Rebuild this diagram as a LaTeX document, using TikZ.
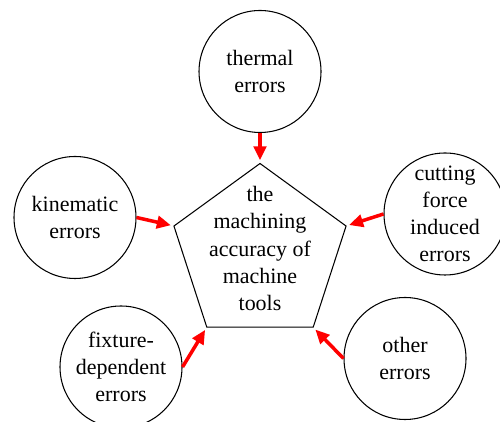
\documentclass[tikz,border=0pt]{standalone}
\usepackage{fontspec}
\setmainfont{Liberation Serif}
\newfontfamily\nodefont{Liberation Serif}
\usetikzlibrary{arrows.meta, shapes.geometric}

\begin{document}
\begin{tikzpicture}[
    err/.style={draw,circle,line width=0.6pt,minimum size=2.44cm,inner sep=0pt},
    txt/.style={align=center,inner sep=0pt,font=\nodefont\fontsize{12.5}{15.4}\selectfont},
    pent/.style={draw,regular polygon,regular polygon sides=5,line width=0.6pt,minimum size=3.62cm,inner sep=0pt},
    arr/.style={-{Triangle[length=2.8mm,width=2.5mm]},red,line width=2pt,shorten >=0.5mm}]
    \useasboundingbox (0,0) rectangle (10,8.44);
    \node[pent] (acc) at (5.2,3.36) {};
    \node[txt] (acctxt) at (5.2,3.47) {the\\machining\\accuracy of\\machine\\tools};
    \node[err,label={[txt]center:thermal\\errors}]                  (thm) at (5.2,7.01) {};
    \node[err,label={[txt]center:kinematic\\errors}]                (kin) at (1.5,4.09) {};
    \node[err,label={[txt]center:cutting\\force\\induced\\errors}]  (cut) at (8.9,4.16) {};
    \node[err,label={[txt]center:fixture-\\dependent\\errors}]      (fix) at (2.42,1.1) {};
    \node[err,label={[txt]center:other\\errors}]                    (oth) at (8.1,1.27) {};
    \draw[arr](thm.south)--(acc.corner 1);
    \draw[arr](kin.east)--(acc.corner 2);
    \draw[arr](fix.east)--(acc.corner 3);
    \draw[arr](oth.west)--(acc.corner 4);
    \draw[arr](cut.west)--(acc.corner 5);
  \end{tikzpicture}
\end{document}
